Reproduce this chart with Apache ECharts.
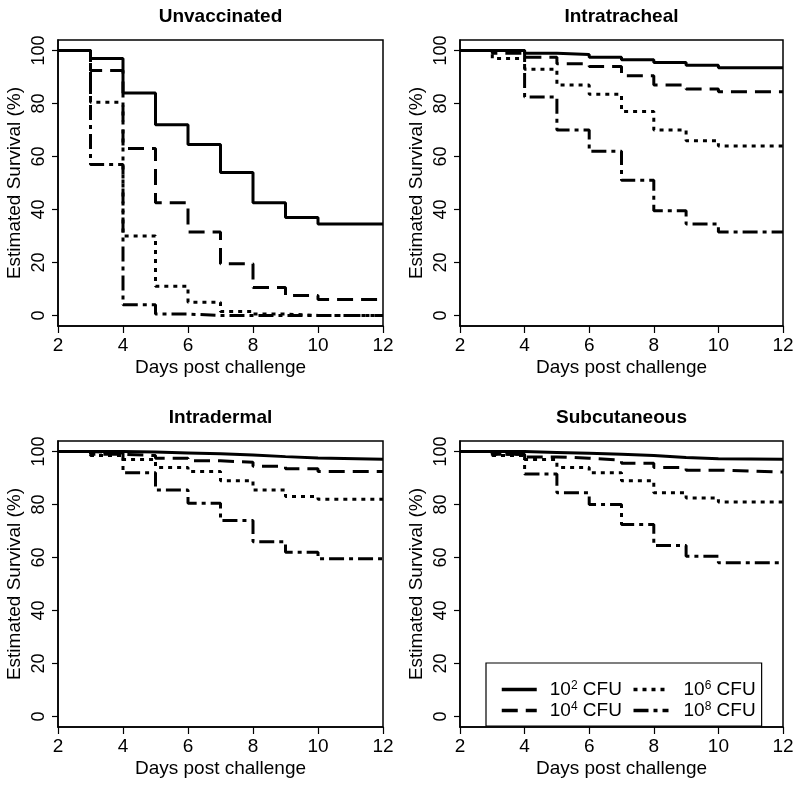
<!DOCTYPE html>
<html>
<head>
<meta charset="utf-8">
<script src="https://cdn.jsdelivr.net/npm/echarts@6/dist/echarts.min.js"></script>
<style>
html,body{margin:0;padding:0;background:#fff;}
#chart{width:800px;height:787px;}
</style>
</head>
<body>
<div id="chart"></div>
<script>
// ---- data ----
const days = [2, 3, 4, 5, 6, 7, 8, 9, 10, 12];
const panelTitles = ['Unvaccinated', 'Intratracheal', 'Intradermal', 'Subcutaneous'];
const seriesNames = ['10^2 CFU', '10^4 CFU', '10^6 CFU', '10^8 CFU'];
const xTicks = [2, 4, 6, 8, 10, 12];
const yTicks = [0, 20, 40, 60, 80, 100];

// Unvaccinated
const unvac_1e2 = [100, 97, 84, 72, 64.5, 54, 42.5, 37, 34.5, 34.5];
const unvac_1e4 = [100, 92.5, 63, 42.5, 31.5, 19.5, 10.5, 7.5, 6, 6];
const unvac_1e6 = [100, 80.5, 30, 11, 5, 1.5, 0.5, 0, 0, 0];
const unvac_1e8 = [100, 57, 4, 0.5, 0, 0, 0, 0, 0, 0];
// Intratracheal
const it_1e2 = [100, 100, 99, 98.5, 97.5, 96.5, 95.5, 94.5, 93.5, 93.5];
const it_1e4 = [100, 99, 97.5, 95, 94, 90.5, 87, 85.5, 84.5, 84.5];
const it_1e6 = [100, 97, 93, 87, 83.5, 77, 70, 66, 64, 64];
const it_1e8 = [100, 100, 82.5, 70, 62, 51, 39.5, 34.5, 31.5, 31.5];
// Intradermal
const id_1e2 = [100, 100, 99.8, 99.5, 99.2, 98.7, 98.1, 97.6, 97.1, 97.1];
const id_1e4 = [100, 99, 98.5, 97.5, 96.5, 96, 94.5, 93.5, 92.5, 92.5];
const id_1e6 = [100, 98.5, 97, 94, 92.5, 89, 85.5, 83, 82, 82];
const id_1e8 = [100, 99.5, 92, 85.5, 80.5, 74, 66, 62, 59.5, 59.5];
// Subcutaneous
const sc_1e2 = [100, 100, 99.7, 99.4, 99, 98.5, 97.8, 97.3, 97.1, 97.1];
const sc_1e4 = [100, 99, 98, 97.5, 96.8, 95.6, 94, 93, 92.3, 92.3];
const sc_1e6 = [100, 98.5, 97, 94, 92, 89, 84.5, 82.5, 81, 81];
const sc_1e8 = [100, 99, 91.5, 84.5, 80, 72.5, 64.5, 60.5, 58, 58];

const panelData = [
  [unvac_1e2, unvac_1e4, unvac_1e6, unvac_1e8],
  [it_1e2, it_1e4, it_1e6, it_1e8],
  [id_1e2, id_1e4, id_1e6, id_1e8],
  [sc_1e2, sc_1e4, sc_1e6, sc_1e8]
];

// ---- styles ----
const FONT = 'Liberation Sans, Arial, Helvetica, sans-serif';
const dashTypes = ['solid', [16, 8], [4, 5], [15, 5, 4, 5]];
const grids = [
  {left: 58, top: 40, width: 325, height: 286},
  {left: 460, top: 40, width: 323, height: 286},
  {left: 58, top: 441, width: 325, height: 286},
  {left: 460, top: 441, width: 323, height: 286}
];

const option = {
  animation: false,
  backgroundColor: '#fff',
  textStyle: {fontFamily: FONT, color: '#000'},
  title: panelTitles.map((t, i) => ({
    text: t,
    left: grids[i].left + grids[i].width / 2,
    top: grids[i].top - 33,
    textAlign: 'center',
    padding: 0,
    textStyle: {fontFamily: FONT, fontSize: 19, fontWeight: 'bold', color: '#000'}
  })),
  grid: grids.map(g => Object.assign({show: true, borderColor: '#000', borderWidth: 1.5, backgroundColor: 'transparent'}, g)),
  xAxis: grids.map((g, i) => ({
    type: 'value', gridIndex: i, min: 2, max: 12, interval: 2,
    name: 'Days post challenge', nameLocation: 'middle', nameGap: 32,
    nameTextStyle: {fontFamily: FONT, fontSize: 19, color: '#000'},
    axisLine: {show: true, onZero: false, lineStyle: {color: '#000', width: 1.5}},
    axisTick: {show: true, length: 7, lineStyle: {color: '#000', width: 1.2}},
    axisLabel: {fontFamily: FONT, fontSize: 19, color: '#000', margin: 10},
    splitLine: {show: false}
  })),
  yAxis: grids.map((g, i) => ({
    type: 'value', gridIndex: i, min: -4, max: 104,
    name: 'Estimated Survival (%)', nameLocation: 'middle', nameGap: 34,
    nameTextStyle: {fontFamily: FONT, fontSize: 19, color: '#000'},
    axisLine: {show: true, onZero: false, lineStyle: {color: '#000', width: 1.5}},
    axisTick: {show: true, length: 6, customValues: yTicks, lineStyle: {color: '#000', width: 1.2}},
    axisLabel: {fontFamily: FONT, fontSize: 18, color: '#000', margin: 10, rotate: 90, customValues: yTicks},
    splitLine: {show: false}
  })),
  legend: {
    orient: 'vertical',
    left: 486, top: 663, height: 50,
    padding: [17, 6, 6, 14],
    itemGap: 2,
    itemWidth: 35, itemHeight: 14,
    itemStyle: {opacity: 0},
    lineStyle: {width: 3.5},
    borderColor: '#000', borderWidth: 1.2, backgroundColor: '#fff',
    data: [
      {name: seriesNames[0], textStyle: {width: 88}},
      {name: seriesNames[1], textStyle: {width: 88}},
      {name: seriesNames[2], textStyle: {width: 72}},
      {name: seriesNames[3], textStyle: {width: 72}}
    ],
    formatter: function (name) {
      const idx = seriesNames.indexOf(name);
      const exp = name.split(' ')[0].split('^')[1];
      const gap = idx < 2 ? '{g| }' : '{h| }';
      return gap + '10{s|' + exp + '} CFU';
    },
    textStyle: {
      fontFamily: FONT, fontSize: 19, color: '#000', lineHeight: 19,
      rich: {
        g: {width: 8, fontSize: 19, lineHeight: 19},
        h: {width: 10, fontSize: 19, lineHeight: 19},
        s: {fontSize: 12, lineHeight: 12, verticalAlign: 'top', fontFamily: FONT, color: '#000'}
      }
    }
  },
  series: []
};

panelData.forEach((arr, gi) => {
  arr.forEach((vals, si) => {
    option.series.push({
      type: 'line',
      name: seriesNames[si],
      xAxisIndex: gi, yAxisIndex: gi,
      step: 'end',
      symbol: 'none',
      silent: true,
      data: days.map((d, k) => [d, vals[k]]),
      lineStyle: {color: '#000', width: 3, type: dashTypes[si], cap: 'butt'},
      itemStyle: {color: '#000'},
      z: 10 - si
    });
  });
});

const chart = echarts.init(document.getElementById('chart'), null, {renderer: 'canvas'});
chart.setOption(option);
</script>
</body>
</html>
